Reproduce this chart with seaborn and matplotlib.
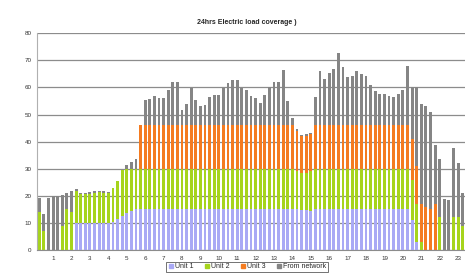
import numpy as np
import pandas as pd
import matplotlib
matplotlib.use("Agg")
import matplotlib.pyplot as plt
from matplotlib.lines import Line2D
import seaborn as sns

# 15-minute slots, 4 per hour (the picture is cut after slot 92)
unit1 = [
    0, 0, 0, 0,
    0, 0, 0, 0,
    10, 10, 10, 10,
    10, 10, 10, 10,
    10.5, 11.5, 12.5, 13.5,
    14.3, 15, 15, 15,
    15, 15, 15, 15,
    15, 15, 15, 15,
    15, 15, 15, 15,
    15, 15, 15, 15,
    15, 15, 15, 15,
    15, 15, 15, 15,
    15, 15, 15, 15,
    15, 15, 15, 15,
    15, 14.8, 14.6, 14.5,
    15, 15, 15, 15,
    15, 15, 15, 15,
    15, 15, 15, 15,
    15, 15, 15, 15,
    15, 15, 15, 15,
    15, 11, 3, 0,
    0, 0, 0, 0,
    0, 0, 0, 0,
    0,
]
unit2 = [
    14, 7, 0, 0,
    0, 9, 15, 14,
    11.8, 10.6, 10.6, 10.7,
    11, 11.3, 11.1, 10.9,
    12.3, 13.8, 17, 16.5,
    15.7, 15, 15, 15,
    15, 15, 15, 15,
    15, 15, 15, 15,
    15, 15, 15, 15,
    15, 15, 15, 15,
    15, 15, 15, 15,
    15, 15, 15, 15,
    15, 15, 15, 15,
    15, 15, 15, 15,
    14, 13.7, 13.9, 14.5,
    15, 15, 15, 15,
    15, 15, 15, 15,
    15, 15, 15, 15,
    15, 15, 15, 15,
    15, 15, 15, 15,
    15, 15, 14, 3,
    0, 0, 0, 12,
    0, 0, 12, 12,
    9,
]
unit3 = [
    0, 0, 0, 0,
    0, 0, 0, 0,
    0, 0, 0, 0,
    0, 0, 0, 0,
    0, 0, 0, 0,
    0, 0, 16, 16,
    16, 16, 16, 16,
    16, 16, 16, 16,
    16, 16, 16, 16,
    16, 16, 16, 16,
    16, 16, 16, 16,
    16, 16, 16, 16,
    16, 16, 16, 16,
    16, 16, 16, 16,
    15, 13.5, 13.7, 13.7,
    16, 16, 16, 16,
    16, 16, 16, 16,
    16, 16, 16, 16,
    16, 16, 16, 16,
    16, 16, 16, 16,
    16, 15, 14, 14,
    16, 15, 17, 0,
    0, 0, 0, 0,
    0,
]
network = [
    5.2, 6.4, 19.2, 19.8,
    20.1, 11.4, 6.1, 7.7,
    0.6, 0.6, 0.6, 0.6,
    0.6, 0.6, 0.6, 0.6,
    0, 0, 0.1, 1.5,
    2.6, 3.7, 0.3, 9.2,
    9.9, 10.8, 10.2, 10.2,
    13, 16, 16, 5.6,
    8, 13.9, 9.2, 7,
    7.7, 10.4, 11.4, 11.4,
    13.9, 15.5, 16.6, 16.6,
    13.9, 13, 11, 10.2,
    8.2, 11.1, 14.3, 16,
    16, 20.5, 9, 2.6,
    0.6, 0.6, 0.6, 0.5,
    10.4, 20.2, 17, 19.4,
    21, 26.6, 21.5, 18,
    18.4, 20, 18.8, 18.2,
    14.9, 12.6, 11.7, 11.7,
    11, 10.6, 11.7, 13.1,
    21.9, 19, 29, 37,
    37, 36, 21.9, 21.7,
    18.9, 18.5, 25.7, 20.1,
    12,
]
hour_labels = [str(h) for h in range(1, 24)]

series_names = ["Unit 1", "Unit 2", "Unit 3", "From network"]
colors = ["#a9a9f5", "#a6d41c", "#f47b20", "#858585"]

df = pd.DataFrame({"slot": np.arange(len(unit1)),
                   "Unit 1": unit1, "Unit 2": unit2,
                   "Unit 3": unit3, "From network": network})
# stacked tops, drawn from the highest layer down
df["top1"] = df["Unit 1"]
df["top2"] = df["top1"] + df["Unit 2"]
df["top3"] = df["top2"] + df["Unit 3"]
df["top4"] = df["top3"] + df["From network"]

sns.set_theme(style="white")
plt.rcParams["font.family"] = ["Liberation Sans", "DejaVu Sans"]

fig = plt.figure(figsize=(4.65, 2.74), dpi=100)
ax = fig.add_axes([37 / 465, 24 / 274, 428 / 465, 216.7 / 274])

for col, c in zip(["top4", "top3", "top2", "top1"], colors[::-1]):
    sns.barplot(data=df, x="slot", y=col, color=c, saturation=1,
                width=0.62, errorbar=None, ax=ax, linewidth=0)

ax.set_ylim(0, 80)
ax.set_xlim(-0.5, len(unit1) - 0.5)
ax.set_yticks(range(0, 81, 10))
ax.set_yticklabels([str(v) for v in range(0, 81, 10)], fontsize=4.5, color="#333333")
ax.set_xticks(list(range(3, len(unit1), 4)), labels=hour_labels,
              fontsize=4.5, color="#333333")
ax.tick_params(axis="both", length=0, pad=4)
ax.set_xlabel("")
ax.set_ylabel("")

ax.set_axisbelow(True)
ax.yaxis.grid(True, color="#8c8c8c", linewidth=0.9)
ax.xaxis.grid(False)
for s in ["top", "right"]:
    ax.spines[s].set_visible(False)
ax.spines["left"].set_color("#b0b0b0")
ax.spines["left"].set_linewidth(0.8)
ax.spines["bottom"].set_color("#8c8c8c")
ax.spines["bottom"].set_linewidth(0.8)

fig.text(247 / 465, 1 - 22 / 274, "24hrs Electric load coverage )",
         ha="center", va="center", fontsize=5, fontweight="bold")

handles = [Line2D([], [], marker="s", linestyle="", markersize=3,
                  markerfacecolor=c, markeredgecolor=c) for c in colors]
leg = fig.legend(handles, series_names, loc="center", ncol=4,
                 bbox_to_anchor=(247 / 465, 1 - 267 / 274), fontsize=5,
                 frameon=True, fancybox=False, handletextpad=0.2,
                 columnspacing=1.4, borderpad=0.25, handlelength=0.9)
leg.get_frame().set_edgecolor("#333333")
leg.get_frame().set_linewidth(0.6)

fig.savefig("out.png", dpi=100)
